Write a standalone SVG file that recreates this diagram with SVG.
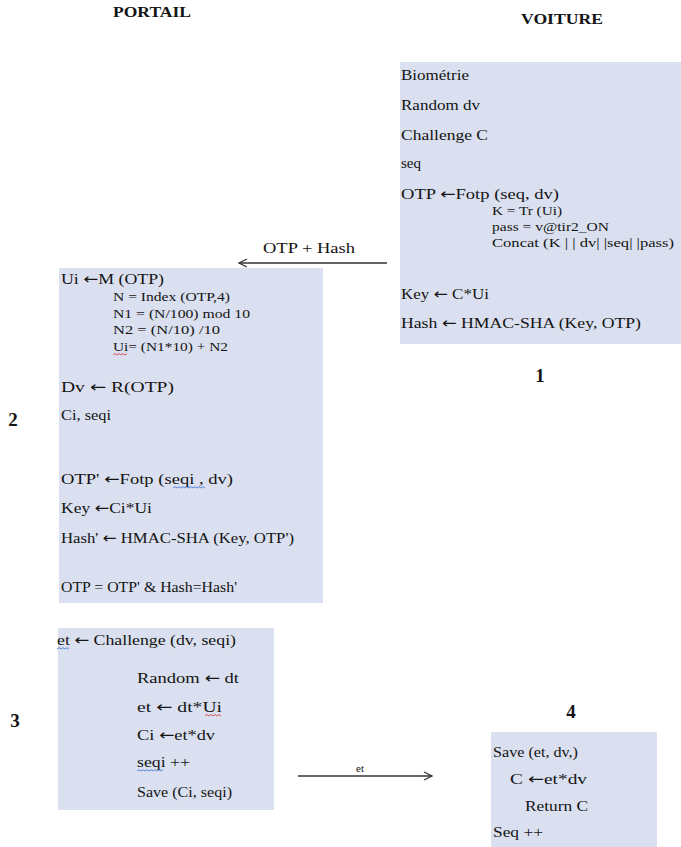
<svg xmlns="http://www.w3.org/2000/svg" width="681" height="847" viewBox="0 0 681 847">
<defs>
<style>
.t{font-family:"Liberation Serif","DejaVu Serif",serif;font-size:15px;fill:#141414}
.a{font-family:"DejaVu Sans",sans-serif}
.s{font-size:12.5px}
.h{font-weight:bold;font-size:15px}
.n{font-weight:bold;font-size:19px;text-anchor:middle}
.l{font-size:11px}
.box{fill:#dae0ef}
.conn{stroke:#333;stroke-width:1.3;fill:none}
.wr{stroke:#d33;stroke-width:0.8;fill:none}
.wb{stroke:#3a6fd0;stroke-width:0.8;fill:none}
</style>
<marker id="ah" viewBox="-10 -6 12 12" refX="0" refY="0" markerWidth="12" markerHeight="12" markerUnits="userSpaceOnUse" orient="auto">
<path d="M-8,-4 L0,0 L-8,4" stroke="#333" stroke-width="1.3" fill="none"/>
</marker>
</defs>
<rect width="681" height="847" fill="#ffffff"/>

<g id="headers">
<text class="t h" x="113" y="17" textLength="78" lengthAdjust="spacingAndGlyphs">PORTAIL</text>
<text class="t h" x="521" y="24" textLength="82" lengthAdjust="spacingAndGlyphs">VOITURE</text>
</g>

<g id="node1">
<rect class="box" x="400" y="62" width="281" height="282"/>
<text class="t" x="401" y="80" textLength="68" lengthAdjust="spacingAndGlyphs">Biométrie</text>
<text class="t" x="401" y="110" textLength="79" lengthAdjust="spacingAndGlyphs">Random dv</text>
<text class="t" x="401" y="140" textLength="87" lengthAdjust="spacingAndGlyphs">Challenge C</text>
<text class="t" x="401" y="168" textLength="20" lengthAdjust="spacingAndGlyphs">seq</text>
<text class="t" x="401" y="199" textLength="158" lengthAdjust="spacingAndGlyphs">OTP <tspan class="a">←</tspan>Fotp (seq, dv)</text>
<text class="t s" x="492" y="215" textLength="70" lengthAdjust="spacingAndGlyphs">K = Tr (Ui)</text>
<text class="t s" x="492" y="231" textLength="117" lengthAdjust="spacingAndGlyphs">pass = v@tir2_ON</text>
<text class="t s" x="492" y="247" textLength="182" lengthAdjust="spacingAndGlyphs">Concat (K | | dv| |seq| |pass)</text>
<text class="t" x="401" y="299" textLength="88" lengthAdjust="spacingAndGlyphs">Key <tspan class="a">←</tspan> C*Ui</text>
<text class="t" x="401" y="328" textLength="240" lengthAdjust="spacingAndGlyphs">Hash <tspan class="a">←</tspan> HMAC-SHA (Key, OTP)</text>
<text class="t n" x="540" y="382">1</text>
</g>

<g id="node2">
<rect class="box" x="59" y="268" width="264" height="335"/>
<text class="t" x="61" y="284" textLength="103" lengthAdjust="spacingAndGlyphs">Ui <tspan class="a">←</tspan>M  (OTP)</text>
<text class="t s" x="113" y="301" textLength="117" lengthAdjust="spacingAndGlyphs">N = Index (OTP,4)</text>
<text class="t s" x="113" y="318" textLength="137" lengthAdjust="spacingAndGlyphs">N1 = (N/100) mod 10</text>
<text class="t s" x="113" y="334" textLength="107" lengthAdjust="spacingAndGlyphs">N2 = (N/10) /10</text>
<text class="t s" x="113" y="351" textLength="115" lengthAdjust="spacingAndGlyphs">Ui= (N1*10) + N2</text>
<path class="wr" d="M113,355 l2,-1.5 l2,1.5 l2,-1.5 l2,1.5 l2,-1.5 l2,1.5 l2,-1.5"/>
<text class="t" x="61" y="392" textLength="113" lengthAdjust="spacingAndGlyphs">Dv <tspan class="a">←</tspan>   R(OTP)</text>
<text class="t" x="61" y="420" textLength="50" lengthAdjust="spacingAndGlyphs">Ci, seqi</text>
<text class="t" x="61" y="484" textLength="172" lengthAdjust="spacingAndGlyphs">OTP'  <tspan class="a">←</tspan>Fotp (seqi , dv)</text>
<path class="wb" d="M173,488 l2,-1.3 l2,1.3 l2,-1.3 l2,1.3 l2,-1.3 l2,1.3 l2,-1.3 l2,1.3 l2,-1.3 l2,1.3 l2,-1.3 l2,1.3 l2,-1.3 l2,1.3 l2,-1.3 l2,1.3"/>
<text class="t" x="61" y="513" textLength="91" lengthAdjust="spacingAndGlyphs">Key <tspan class="a">←</tspan>Ci*Ui</text>
<text class="t" x="61" y="543" textLength="233" lengthAdjust="spacingAndGlyphs">Hash' <tspan class="a">←</tspan>  HMAC-SHA (Key, OTP')</text>
<text class="t" x="61" y="592" textLength="176" lengthAdjust="spacingAndGlyphs">OTP = OTP' &amp; Hash=Hash'</text>
<text class="t n" x="13" y="426">2</text>
</g>

<g id="node3">
<rect class="box" x="58" y="628" width="216" height="182"/>
<text class="t" x="57" y="645" textLength="179" lengthAdjust="spacingAndGlyphs">et <tspan class="a">←</tspan>  Challenge (dv, seqi)</text>
<path class="wb" d="M57,649 l2,-1.3 l2,1.3 l2,-1.3 l2,1.3 l2,-1.3 l2,1.3"/>
<text class="t" x="137" y="683" textLength="102" lengthAdjust="spacingAndGlyphs">Random <tspan class="a">←</tspan> dt</text>
<text class="t" x="137" y="712" textLength="85" lengthAdjust="spacingAndGlyphs">et <tspan class="a">←</tspan>  dt*Ui</text>
<path class="wr" d="M205,716 l2,-1.5 l2,1.5 l2,-1.5 l2,1.5 l2,-1.5 l2,1.5 l2,-1.5 l2,1.5"/>
<text class="t" x="137" y="740" textLength="78" lengthAdjust="spacingAndGlyphs">Ci <tspan class="a">←</tspan>et*dv</text>
<text class="t" x="137" y="767" textLength="53" lengthAdjust="spacingAndGlyphs">seqi ++</text>
<path class="wb" d="M137,771 l2,-1.3 l2,1.3 l2,-1.3 l2,1.3 l2,-1.3 l2,1.3 l2,-1.3 l2,1.3 l2,-1.3 l2,1.3 l2,-1.3 l2,1.3 l2,-1.3"/>
<text class="t" x="137" y="797" textLength="95" lengthAdjust="spacingAndGlyphs">Save (Ci, seqi)</text>
<text class="t n" x="15" y="727">3</text>
</g>

<g id="node4">
<rect class="box" x="491" y="732" width="166" height="115"/>
<text class="t" x="493" y="757" textLength="85" lengthAdjust="spacingAndGlyphs">Save (et, dv,)</text>
<text class="t" x="510" y="784" textLength="77" lengthAdjust="spacingAndGlyphs">C <tspan class="a">←</tspan>et*dv</text>
<text class="t" x="525" y="811" textLength="63" lengthAdjust="spacingAndGlyphs">Return C</text>
<text class="t" x="493" y="837" textLength="50" lengthAdjust="spacingAndGlyphs">Seq ++</text>
<text class="t n" x="571" y="718">4</text>
</g>

<g id="connectors">
<line class="conn" x1="387" y1="263" x2="239" y2="263" marker-end="url(#ah)"/>
<text class="t" x="263" y="253" textLength="92" lengthAdjust="spacingAndGlyphs">OTP + Hash</text>
<line class="conn" x1="298" y1="776" x2="432" y2="776" marker-end="url(#ah)"/>
<text class="t l" x="360" y="772" text-anchor="middle">et</text>
</g>
</svg>
